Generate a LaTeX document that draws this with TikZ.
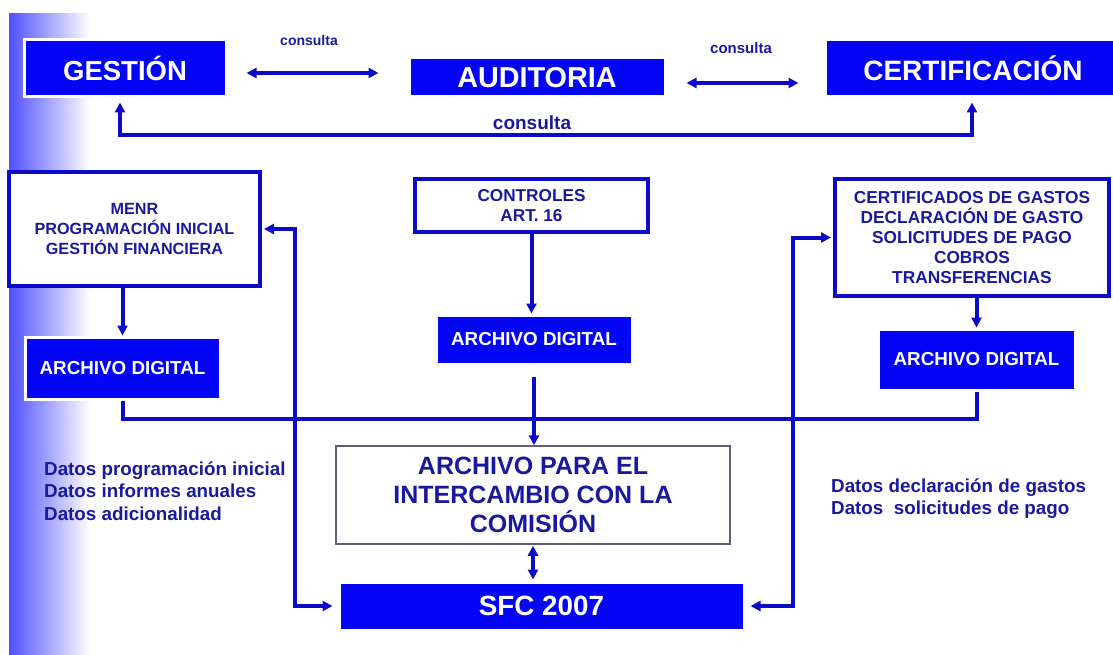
\documentclass[tikz,border=0pt]{standalone}
\usepackage{fontspec}
\setmainfont{Liberation Sans}
\usetikzlibrary{arrows.meta}

\definecolor{boxblue}{RGB}{5,5,245}
\definecolor{lineblue}{RGB}{10,10,200}
\definecolor{textblue}{RGB}{25,25,160}
\definecolor{gradblue}{RGB}{80,80,255}
\definecolor{framegray}{RGB}{95,95,125}

\tikzset{
  bluebox/.style={fill=boxblue, draw=white, line width=3pt, text=white, inner sep=0pt, align=center},
  framebox/.style={fill=white, draw=lineblue, line width=4pt, text=textblue, inner sep=0pt, align=center},
  thinbox/.style={fill=white, draw=framegray, line width=1.5pt, text=textblue, inner sep=0pt, align=center},
  lbl/.style={text=textblue, inner sep=0pt},
  wire/.style={draw=lineblue, line width=4pt},
  link/.style={wire, -{Triangle[length=10pt,width=10pt]}},
  twoway/.style={wire, {Triangle[length=10pt,width=10pt]}-{Triangle[length=10pt,width=10pt]}},
}

\begin{document}
\begin{tikzpicture}[x=1pt, y=-1pt]

    \useasboundingbox (0,0) rectangle (1113,655);

    % --- Background strip ---
    \shade[left color=gradblue, right color=white] (9,14) rectangle (90,655);

    % --- Coordinates ---
    \coordinate (ya) at (0,73);   % level of left consulta arrow
    \coordinate (yb) at (0,83);   % level of right consulta arrow
    \coordinate (cq) at (972,135);
    \coordinate (hl) at (0,419);  % common line under the archives
    \coordinate (xl) at (295,0);
    \coordinate (xr) at (793,0);

    % --- Top row ---
    \node[bluebox, minimum width=202pt, minimum height=57pt, font=\bfseries\fontsize{27.5}{30}\selectfont] (gestion) at (125,68.5) {GESTIÓN};
    \node[bluebox, minimum width=256pt, minimum height=39pt, font=\bfseries\fontsize{28.8}{30}\selectfont] (auditoria) at (537,77.5) {AUDITORIA};
    \node[bluebox, minimum width=296pt, minimum height=57pt, font=\bfseries\fontsize{28}{30}\selectfont] (certif) at (973,68.5) {CERTIFICACIÓN};

    \node[lbl, font=\bfseries\fontsize{14}{16}\selectfont] (cons1) at (309,40) {consulta};
    \node[lbl, font=\bfseries\fontsize{15}{17}\selectfont] (cons2) at (741,48) {consulta};
    \node[lbl, font=\bfseries\fontsize{19}{21}\selectfont] (cons3) at (532,123) {consulta};

    % --- Sources ---
    \node[framebox, minimum width=251pt, minimum height=114pt, font=\bfseries\fontsize{16.2}{20}\selectfont] (menr) at (134.5,229) {MENR\\PROGRAMACIÓN INICIAL\\GESTIÓN FINANCIERA};
    \node[framebox, minimum width=233pt, minimum height=53pt, font=\bfseries\fontsize{17.2}{20}\selectfont] (controles) at (531.5,205.5) {CONTROLES\\ART. 16};
    \node[framebox, minimum width=274pt, minimum height=117pt, font=\bfseries\fontsize{17.3}{20}\selectfont] (certdocs) at (972,237.5) {CERTIFICADOS DE GASTOS\\DECLARACIÓN DE GASTO\\SOLICITUDES DE PAGO\\COBROS\\TRANSFERENCIAS};

    % --- Digital archives ---
    \node[bluebox, minimum width=195pt, minimum height=62pt, font=\bfseries\fontsize{18.8}{20}\selectfont] (adL) at (122.5,368) {ARCHIVO DIGITAL};
    \node[bluebox, minimum width=196pt, minimum height=49pt, font=\bfseries\fontsize{18.8}{20}\selectfont] (adC) at (534,339.5) {ARCHIVO DIGITAL};
    \node[bluebox, minimum width=197pt, minimum height=61pt, font=\bfseries\fontsize{18.8}{20}\selectfont] (adR) at (976.5,359.5) {ARCHIVO DIGITAL};

    % --- Exchange with the Commission ---
    \node[thinbox, minimum width=394pt, minimum height=98pt, font=\bfseries\fontsize{25}{29}\selectfont] (apc) at (533,495) {ARCHIVO PARA EL\\INTERCAMBIO CON LA\\COMISIÓN};
    \node[bluebox, minimum width=405pt, minimum height=48pt, font=\bfseries\fontsize{27.8}{30}\selectfont] (sfc) at (541.5,606) {SFC 2007};

    \node[lbl, anchor=west, align=left, font=\bfseries\fontsize{18.8}{22.5}\selectfont] (datosL) at (44,491) {Datos programación inicial\\Datos informes anuales\\Datos adicionalidad};
    \node[lbl, anchor=west, align=left, font=\bfseries\fontsize{18.8}{22}\selectfont] (datosR) at (831,499) {Datos declaración de gastos\\Datos~~solicitudes de pago};

    % --- Connectors ---
    \draw[twoway, shorten <=19pt, shorten >=29pt] (gestion.east |- ya) -- (auditoria.west |- ya);
    \draw[twoway, shorten <=20pt, shorten >=25pt] (auditoria.east |- yb) -- (certif.west |- yb);
    \draw[twoway, shorten <=4pt, shorten >=4pt] ([xshift=-5pt]gestion.south) |- (cq) -- (cq |- certif.south);

    \draw[link] (menr.south -| adL.north) -- (adL.north);
    \draw[link] (controles.south) -- (controles.south |- adC.north);
    \draw[link] (certdocs.south -| adR.north) -- (adR.north);

    \draw[wire] (adL.south) |- (hl -| adR.south) -- (adR.south);
    \draw[link, shorten <=11pt] (adC.south) -- (adC.south |- apc.north);

    \draw[twoway, shorten <=2pt, shorten >=5pt] (menr.east) -| (xl |- sfc.west) -- (sfc.west);
    \draw[twoway, shorten <=2pt, shorten >=5pt] (certdocs.west) -| (xr |- sfc.east) -- (sfc.east);
    \draw[twoway, shorten <=1pt, shorten >=1pt] (apc.south) -- (apc.south |- sfc.north);

\end{tikzpicture}
\end{document}
